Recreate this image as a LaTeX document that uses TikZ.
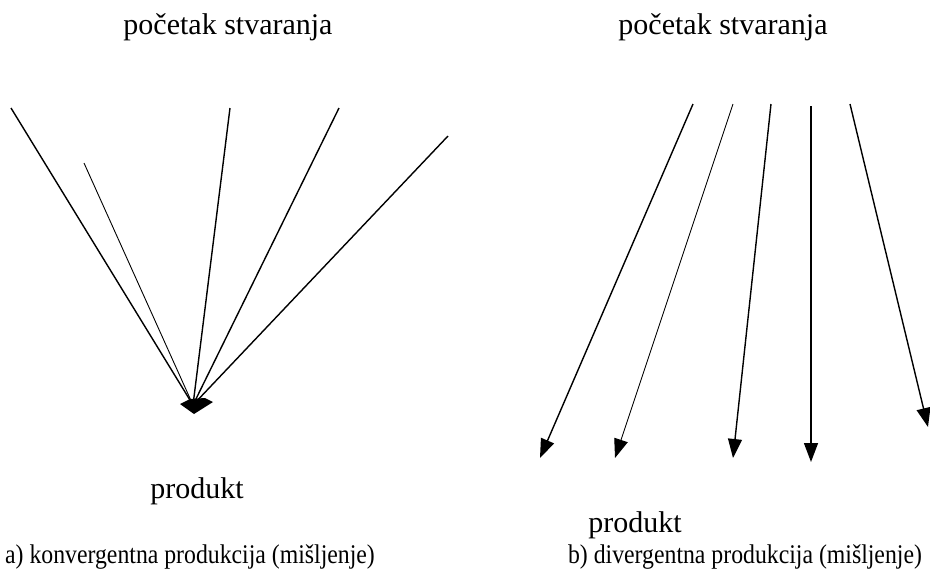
\documentclass[tikz,border=0pt]{standalone}
\usepackage{fontspec}
\setmainfont{Liberation Serif}
\usetikzlibrary{arrows.meta, positioning}

\tikzset{
  ray/.style={line width=1.4pt},
  thinray/.style={line width=0.9pt},
  arr/.style={-{Triangle[length=19pt,width=14pt]}},
  label/.style={inner sep=0pt, anchor=base, font=\fontsize{30}{34}\selectfont},
  caption/.style={inner sep=0pt, anchor=base, xscale=0.88, font=\fontsize{27}{30}\selectfont}
}

\begin{document}
\begin{tikzpicture}[x=1pt, y=-1pt]
  \useasboundingbox (0,0) rectangle (930,574);

  % a) convergent
  \node[label] (topA) at (228,34) {početak stvaranja};
  \coordinate (conv) at (193,405);
  \coordinate (a1) at (11,108);
  \coordinate (a2) at (84,163);
  \coordinate (a3) at (230,108);
  \coordinate (a4) at (339,108);
  \coordinate (a5) at (448,136);
  \foreach \s in {a1,a3,a4,a5}
    \draw[ray] (\s) -- (conv);
  \draw[thinray] (a2) -- (conv);
  \fill (180,404) -- (190,399) -- (205,398) -- (213,402) -- (194,414) -- cycle;
  \node[label] (prodA) at (197,498) {produkt};
  \node[caption] (capA) at (190,563) {a) konvergentna produkcija (mišljenje)};

  % b) divergent
  \node[label] (topB) at (723,34) {početak stvaranja};
  \coordinate (b1) at (693,104);  \coordinate (e1) at (540,458);
  \coordinate (b2) at (733,104);  \coordinate (e2) at (615,458);
  \coordinate (b3) at (771,104);  \coordinate (e3) at (733,458);
  \coordinate (b4) at (811,106);  \coordinate (e4) at (811,462);
  \coordinate (b5) at (850,104);  \coordinate (e5) at (928,427);
  \foreach \i in {1,3,4,5}
    \draw[ray, arr] (b\i) -- (e\i);
  \draw[thinray, arr] (b2) -- (e2);
  \node[label] (prodB) at (635,532) {produkt};
  \node[caption] (capB) at (745,563) {b) divergentna produkcija (mišljenje)};
\end{tikzpicture}
\end{document}
